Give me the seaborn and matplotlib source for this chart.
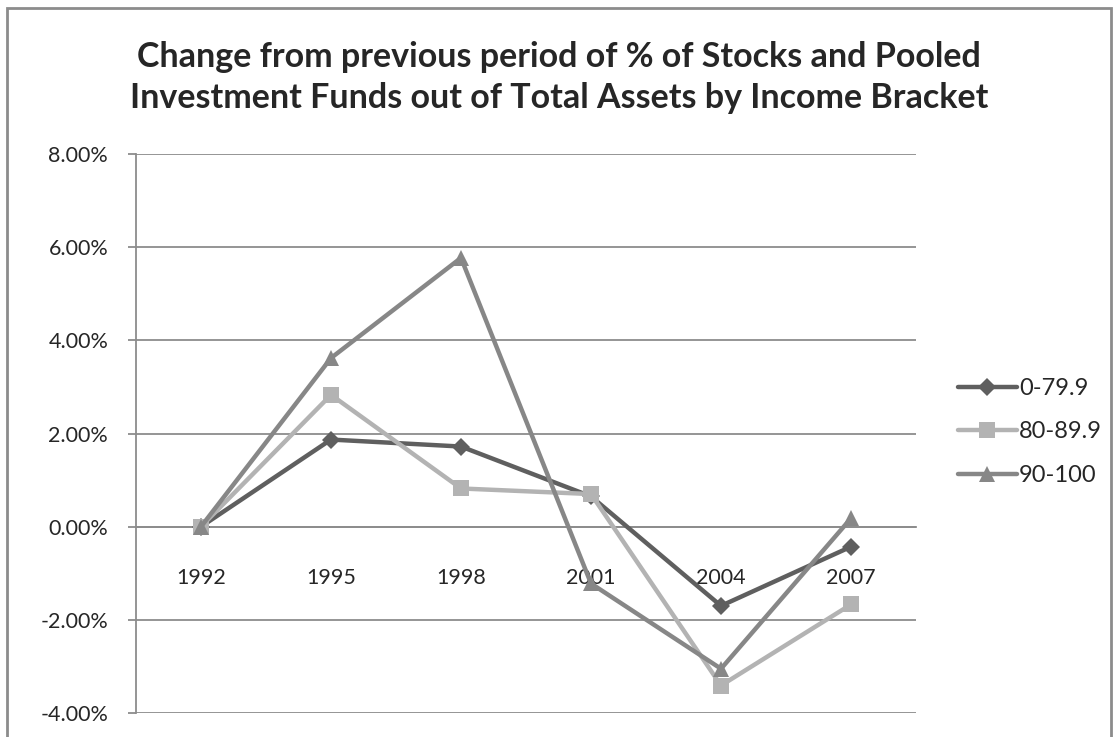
import pandas as pd
import numpy as np
import matplotlib.pyplot as plt
import seaborn as sns
from matplotlib.lines import Line2D
from matplotlib.patches import Rectangle

# Data (percent change from previous period)
years = ['1992', '1995', '1998', '2001', '2004', '2007']
brackets = ['0-79.9', '80-89.9', '90-100']
low = [0.00, 1.87, 1.72, 0.65, -1.70, -0.43]
mid = [0.00, 2.83, 0.82, 0.70, -3.41, -1.67]
high = [0.00, 3.62, 5.77, -1.22, -3.05, 0.18]

colors = ['#5f5f5f', '#b3b3b3', '#878787']
markers = ['D', 's', '^']
msizes = [9, 11, 12]

df = pd.DataFrame({
    'pos': list(range(len(years))) * 3,
    'value': low + mid + high,
    'bracket': [b for b in brackets for _ in years],
})

sns.set_style('white')
plt.rcParams['font.family'] = ['Lato', 'DejaVu Sans']

fig = plt.figure(figsize=(11.18, 7.37), dpi=100)
ax = fig.add_axes([136 / 1118, 1 - 713 / 737, 780 / 1118, 559 / 737])

for b, c, m, ms in zip(brackets, colors, markers, msizes):
    sns.lineplot(data=df[df['bracket'] == b], x='pos', y='value', ax=ax,
                 color=c, marker=m, markersize=ms, markeredgewidth=0,
                 linewidth=3.2, zorder=3)

ax.set_xlim(-0.5, len(years) - 0.5)
ax.set_ylim(-4, 8)
ax.set_xlabel('')
ax.set_ylabel('')

# y axis
ax.set_yticks(np.arange(-4, 8.1, 2))
ax.set_yticklabels([f'{v:.2f}%' for v in np.arange(-4, 8.1, 2)])
ax.grid(axis='y', color='#8c8c8c', linewidth=1.3)
ax.grid(axis='x', visible=False)

# x axis at zero, tick marks between categories, labels at categories
ax.spines['bottom'].set_position(('data', 0))
ax.set_xticks(np.arange(-0.5, len(years), 1.0))
ax.set_xticklabels([])
ax.set_xticks(range(len(years)), minor=True)
ax.set_xticklabels(years, minor=True)
ax.tick_params(axis='x', which='major', direction='out', length=6,
               color='#8c8c8c', width=1.3)
ax.tick_params(axis='x', which='minor', length=0, pad=30, labelsize=15.5)
ax.tick_params(axis='y', direction='out', length=6, color='#8c8c8c',
               width=1.3, pad=14, labelsize=15.5, left=True)

for s in ['top', 'right']:
    ax.spines[s].set_visible(False)
for s in ['left', 'bottom']:
    ax.spines[s].set_color('#8c8c8c')
    ax.spines[s].set_linewidth(1.3)

# legend
handles = [Line2D([0], [0], color=c, marker=m, markersize=ms,
                  markeredgewidth=0, linewidth=3.2)
           for c, m, ms in zip(colors, markers, msizes)]
fig.legend(handles, brackets, loc='center left',
           bbox_to_anchor=(946 / 1118, 1 - 432 / 737), frameon=False,
           fontsize=17, handlelength=2.5, handletextpad=0.1,
           labelspacing=0.95, borderpad=0)

fig.text(0.5, 1 - 77.5 / 737,
         'Change from previous period of % of Stocks and Pooled\n'
         'Investment Funds out of Total Assets by Income Bracket',
         ha='center', va='center', fontsize=24.5, fontweight='bold',
         linespacing=1.32)

# chart area border
fig.patches.append(Rectangle((7 / 1118, -0.05), 1104 / 1118, 1.05 - 8 / 737,
                             transform=fig.transFigure, fill=False,
                             edgecolor='#8c8c8c', linewidth=2))

fig.savefig('out.png', dpi=100)
